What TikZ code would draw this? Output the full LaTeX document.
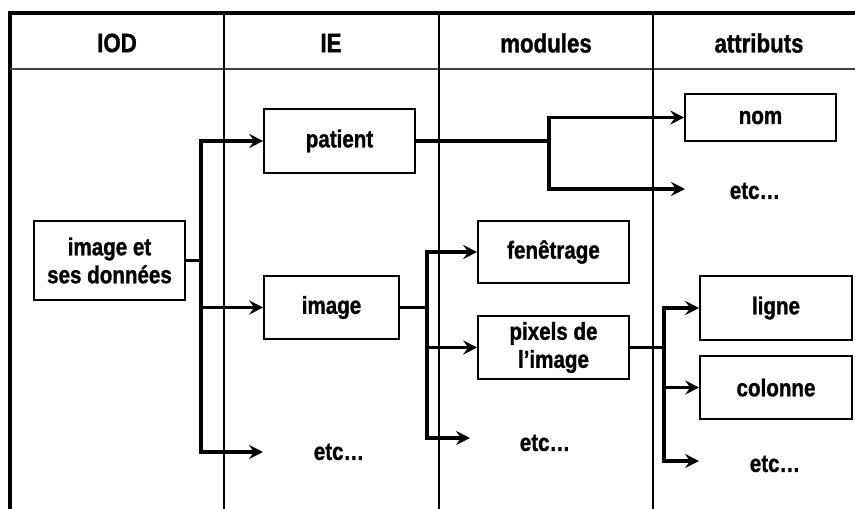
\documentclass[tikz,border=0pt]{standalone}
\usepackage{fontspec}
\newfontfamily\narb{Liberation Sans Bold}[FakeStretch=0.84,FakeBold=1.2]
\usetikzlibrary{arrows.meta}
\begin{document}
\begin{tikzpicture}[x=1pt,y=-1pt,
  box/.style={draw,line width=1.6pt,rectangle,inner sep=0pt,align=center,font=\narb\fontsize{24.5}{28}\selectfont},
  hdr/.style={font=\narb\fontsize{26.5}{30}\selectfont,inner sep=0pt},
  etctxt/.style={font=\narb\fontsize{24.5}{28}\selectfont,inner sep=0pt},
  conn/.style={line width=3.4pt,line cap=rect},
  arr/.style={line width=3.4pt,-{Stealth[length=14pt,width=14pt,inset=5pt]}},
  frame/.style={line width=3.6pt},
  col/.style={line width=1.8pt}]
\useasboundingbox (0,0) rectangle (855,509);
% frame and columns
\draw[frame] (10,509) -- (10,13) -- (855,13);
\draw[col,black!75] (10,69) -- (855,69);
\draw[col] (224,13) -- (224,509);
\draw[col] (439,13) -- (439,509);
\draw[col] (653,13) -- (653,509);
% headers
\node[hdr] (hIOD) at (117,43) {IOD};
\node[hdr] (hIE) at (331,43) {IE};
\node[hdr] (hmod) at (546,43) {modules};
\node[hdr] (hatt) at (759,43) {attributs};
% boxes
\node[box,minimum width=151pt,minimum height=79pt] (iod) at (109.5,260.5) {image et\\ses données};
\node[box,minimum width=151pt,minimum height=64pt] (patient) at (339.5,141) {patient};
\node[box,minimum width=135pt,minimum height=63pt] (image) at (331.5,307.5) {image};
\node[box,minimum width=151pt,minimum height=47pt] (nom) at (760.5,117.5) {nom};
\node[box,minimum width=151pt,minimum height=62pt] (fen) at (553.5,252) {fenêtrage};
\node[box,minimum width=151pt,minimum height=63pt] (pix) at (553.5,347.5) {pixels de\\l’image};
\node[box,minimum width=152pt,minimum height=64pt] (ligne) at (776,308) {ligne};
\node[box,minimum width=152pt,minimum height=63pt] (colonne) at (776,387.5) {colonne};
% etc texts
\node[etctxt] (etcIE) at (339,452) {etc…};
\node[etctxt] (etcMod) at (545,443) {etc…};
\node[etctxt] (etcAttA) at (755,191) {etc…};
\node[etctxt] (etcAttB) at (775,464) {etc…};
% arrow ends and junctions
\coordinate (cIE) at (263,452);
\coordinate (cMod) at (470,438);
\coordinate (cAttA) at (685,189);
\coordinate (cAttB) at (699,461);
\coordinate (j1) at (201,260.5);
\coordinate (j2) at (549,141);
\coordinate (j3) at (427,307.5);
\coordinate (j4) at (664,347.5);
% fork 1
\draw[conn] (iod.east) -- (j1);
\draw[conn] (j1 |- patient.west) -- (j1 |- cIE);
\draw[arr] (j1 |- patient.west) -- (patient.west);
\draw[arr] (j1 |- image.west) -- (image.west);
\draw[arr] (j1 |- cIE) -- (cIE);
% fork 2
\draw[conn] (patient.east) -- (j2);
\draw[conn] (j2 |- nom.west) -- (j2 |- cAttA);
\draw[arr] (j2 |- nom.west) -- (nom.west);
\draw[arr] (j2 |- cAttA) -- (cAttA);
% fork 3
\draw[conn] (image.east) -- (j3);
\draw[conn] (j3 |- fen.west) -- (j3 |- cMod);
\draw[arr] (j3 |- fen.west) -- (fen.west);
\draw[arr] (j3 |- pix.west) -- (pix.west);
\draw[arr] (j3 |- cMod) -- (cMod);
% fork 4
\draw[conn] (pix.east) -- (j4);
\draw[conn] (j4 |- ligne.west) -- (j4 |- cAttB);
\draw[arr] (j4 |- ligne.west) -- (ligne.west);
\draw[arr] (j4 |- colonne.west) -- (colonne.west);
\draw[arr] (j4 |- cAttB) -- (cAttB);
\end{tikzpicture}
\end{document}
